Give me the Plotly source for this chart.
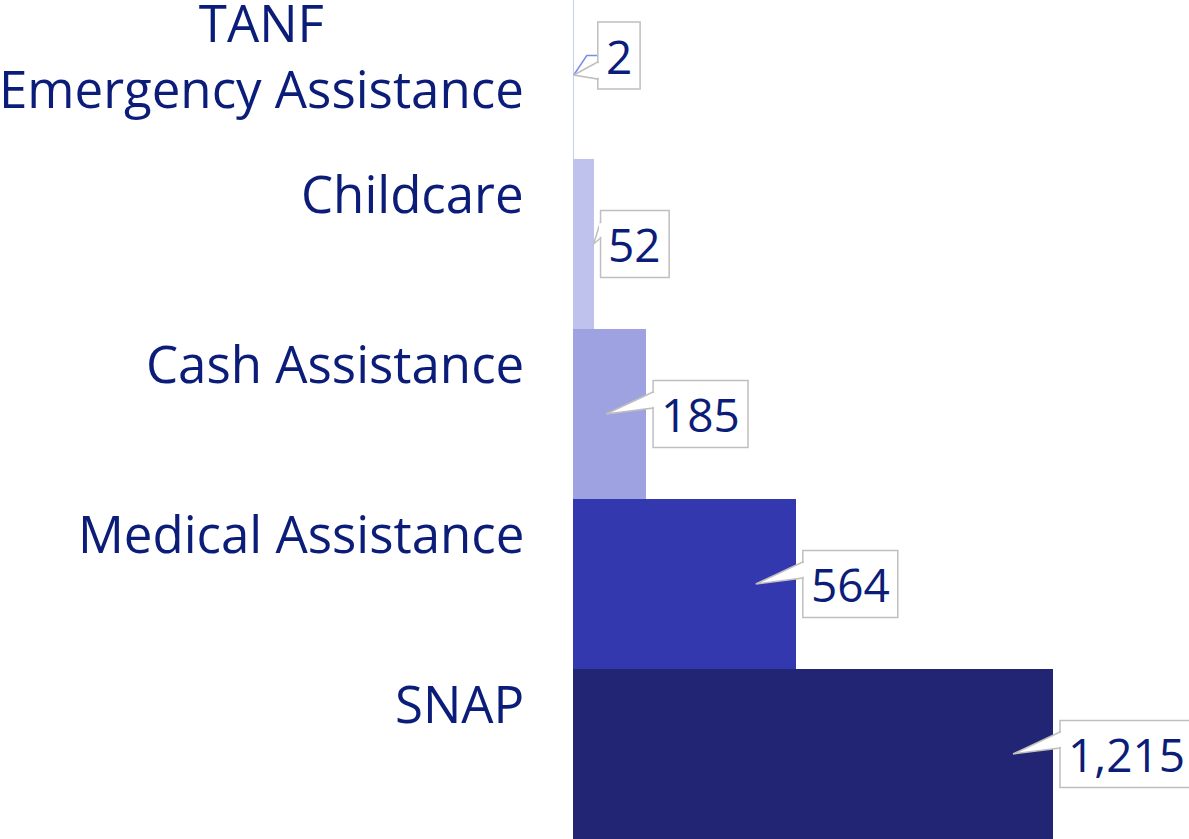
import plotly.graph_objects as go

# ---- data (top to bottom as shown) ----
categories = ["TANF Emergency Assistance", "Childcare", "Cash Assistance",
              "Medical Assistance", "SNAP"]
category_labels = ["TANF<br>Emergency Assistance", "Childcare", "Cash Assistance",
                   "Medical Assistance", "SNAP"]
values = [2, 52, 185, 564, 1215]
bar_colors = ["#c9cdf4", "#c0c2ee", "#9fa2e1", "#3438ae", "#222573"]

# ---- styling ----
W, H = 1189, 839
ML = 573
TEXT = "#0b1d78"
FONT = "Open Sans"
LBL_SIZE = 51
VAL_SIZE = 46
BOX_LINE = "#bfbfbf"
BOX_H = 67
PAD = 8

plot_w = W - ML
x_max = 1215 * plot_w / 480.0
ppu = plot_w / x_max  # pixels per unit

n = len(categories)

def text_width(s, size):
    w = 0
    for ch in s:
        w += 0.258 if ch in ",." else 0.572
    return w * size

fig = go.Figure()
fig.add_trace(go.Bar(
    x=values, y=categories, orientation="h",
    marker=dict(color=bar_colors, line=dict(width=0)),
    hoverinfo="skip",
))

shapes = []
annotations = []

for i, (cat, v) in enumerate(zip(categories, values)):
    idx = n - 1 - i
    txt = f"{v:,}"
    bw = text_width(txt, VAL_SIZE) + 2 * PAD
    barpx = v * ppu
    if i == 0:
        box_dx, box_dy = 24, 18.5
        base_top, base_bot = 12, -5
        tip_dx, tip_dy = 0, -1
    else:
        box_dx, box_dy = 7, 0
        base_top, base_bot = 22, 6
        tip_dx = -40 if barpx > 60 else 0
        tip_dy = 0
    common = dict(xref="x", yref="y", xsizemode="pixel", ysizemode="pixel",
                  xanchor=v, yanchor=idx, layer="above")
    if i == 0:
        shapes.append(dict(type="path", **common,
                           path=f"M {tip_dx},{tip_dy} L 13,{box_dy} L {box_dx},{box_dy}",
                           line=dict(color="#7b8cef", width=1.5)))
    shapes.append(dict(type="rect", **common,
                       x0=box_dx, x1=box_dx + bw,
                       y0=box_dy - BOX_H / 2, y1=box_dy + BOX_H / 2,
                       fillcolor="white", line=dict(color=BOX_LINE, width=1.5)))
    shapes.append(dict(type="path", **common,
                       path=f"M {box_dx},{base_top} L {tip_dx},{tip_dy} L {box_dx},{base_bot} Z",
                       fillcolor="white", line=dict(color=BOX_LINE, width=1.5)))
    shapes.append(dict(type="line", **common,
                       x0=box_dx, x1=box_dx,
                       y0=base_top - 1.2, y1=base_bot + 1.2,
                       line=dict(color="white", width=3)))
    annotations.append(dict(
        x=v, y=idx, xref="x", yref="y", text=txt, showarrow=False,
        xanchor="center", yanchor="middle",
        xshift=box_dx + bw / 2, yshift=box_dy,
        font=dict(family=FONT, size=VAL_SIZE, color=TEXT)))

    annotations.append(dict(
        x=0, y=idx, xref="paper", yref="y", text=category_labels[i],
        showarrow=False, xanchor="right", yanchor="middle", align="center",
        xshift=-47, yshift=19 if i == 0 else 51,
        font=dict(family=FONT, size=LBL_SIZE, color=TEXT)))

fig.update_layout(
    width=W, height=H,
    margin=dict(l=ML, r=0, t=0, b=0, pad=0),
    paper_bgcolor="white", plot_bgcolor="white",
    bargap=0, showlegend=False,
    xaxis=dict(range=[0, x_max], visible=False, fixedrange=True),
    yaxis=dict(type="category", categoryorder="array",
               categoryarray=categories[::-1],
               range=[-0.5, n - 0.5 - 11 / 170.0],
               showticklabels=False, showgrid=False, zeroline=False,
               showline=False, ticks="", fixedrange=True),
    shapes=shapes, annotations=annotations,
)

fig.write_html("out.html", config={"displayModeBar": False},
               post_script="document.body.style.margin='0';document.body.style.overflow='hidden';")
